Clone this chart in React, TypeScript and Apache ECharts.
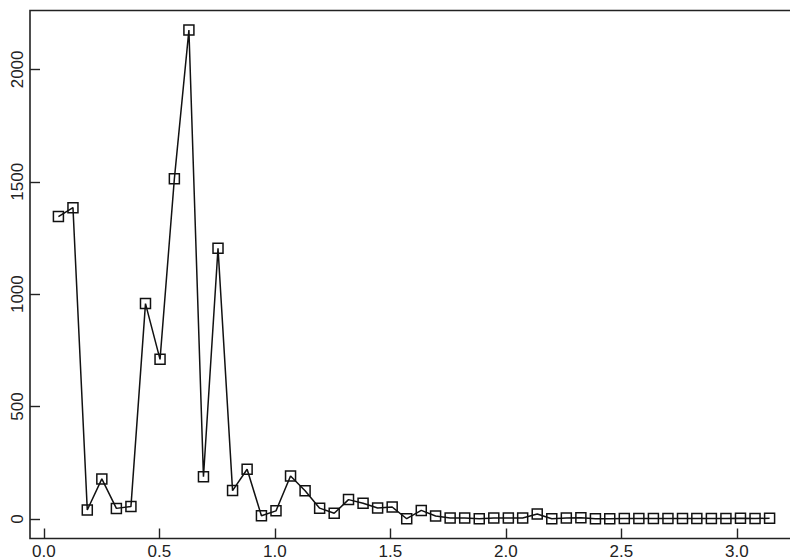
import React, { useEffect, useRef } from "react";
import * as echarts from "echarts";

// Frequencies (radians) of the periodogram ordinates
const freqs = [
  0.063, 0.126, 0.188, 0.251, 0.314, 0.377, 0.44, 0.503, 0.565, 0.628,
  0.691, 0.754, 0.817, 0.88, 0.942, 1.005, 1.068, 1.131, 1.194, 1.257,
  1.319, 1.382, 1.445, 1.508, 1.571, 1.634, 1.696, 1.759, 1.822, 1.885,
  1.948, 2.011, 2.073, 2.136, 2.199, 2.262, 2.325, 2.388, 2.45, 2.513,
  2.576, 2.639, 2.702, 2.765, 2.827, 2.89, 2.953, 3.016, 3.079, 3.142,
];

// Periodogram values
const power = [
  1345, 1385, 40, 178, 47, 55, 958, 710, 1513, 2175,
  188, 1204, 126, 221, 14, 36, 191, 125, 48, 25,
  86, 70, 49, 53, 1, 38, 13, 4, 4, 1,
  4, 4, 4, 22, 1, 4, 5, 1, 1, 2,
  2, 2, 2, 2, 2, 2, 2, 3, 2, 3,
];

const xTicks = [0, 0.5, 1, 1.5, 2, 2.5, 3];
const yTicks = [0, 500, 1000, 1500, 2000];

const FONT = "'Liberation Sans', Arial, Helvetica, sans-serif";
const INK = "#222";

export default function App() {
  const ref = useRef<HTMLDivElement>(null);

  useEffect(() => {
    if (!ref.current) return;
    const chart = echarts.init(ref.current, undefined, { renderer: "svg" });
    chart.setOption({
      animation: false,
      backgroundColor: "#fff",
      grid: {
        left: 30,
        top: 10.5,
        right: -8,
        bottom: 20.5,
        show: true,
        borderColor: INK,
        borderWidth: 1.6,
        backgroundColor: "transparent",
        containLabel: false,
        outerBoundsMode: "none",
      },
      xAxis: {
        type: "value",
        min: -0.06,
        max: 3.265,
        splitLine: { show: false },
        axisLine: { show: false, onZero: false },
        axisTick: {
          show: true,
          inside: true,
          length: 10,
          customValues: xTicks,
          lineStyle: { color: INK, width: 1.4 },
        },
        axisLabel: {
          customValues: xTicks,
          formatter: (v: number) => v.toFixed(1),
          color: INK,
          fontFamily: FONT,
          fontSize: 17,
          margin: 4,
          showMinLabel: true,
          showMaxLabel: true,
        },
      },
      yAxis: {
        type: "value",
        min: -87,
        max: 2262,
        splitLine: { show: false },
        axisLine: { show: false, onZero: false },
        axisTick: {
          show: true,
          inside: true,
          length: 10,
          customValues: yTicks,
          lineStyle: { color: INK, width: 1.4 },
        },
        axisLabel: {
          customValues: yTicks,
          formatter: (v: number) => String(v),
          rotate: 90,
          color: INK,
          fontFamily: FONT,
          fontSize: 17,
          margin: 4,
          showMinLabel: true,
          showMaxLabel: true,
        },
      },
      series: [
        {
          type: "line",
          data: freqs.map((f, i) => [f, power[i]]),
          symbol: "rect",
          symbolSize: 10,
          showAllSymbol: true,
          lineStyle: { color: "#111", width: 1.5 },
          itemStyle: {
            color: "transparent",
            borderColor: "#111",
            borderWidth: 1.5,
          },
          emphasis: { disabled: true },
          z: 3,
        },
      ],
    });
    return () => chart.dispose();
  }, []);

  return (
    <div
      ref={ref}
      style={{ position: "fixed", left: 0, top: 0, width: 790, height: 559 }}
    />
  );
}
